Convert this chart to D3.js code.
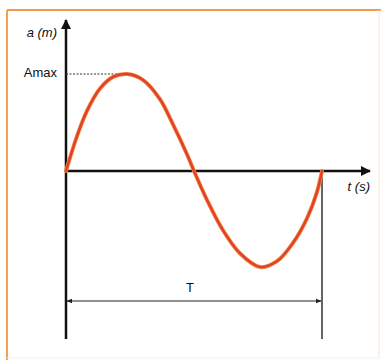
<!DOCTYPE html>
<html>
<head>
<meta charset="utf-8">
<script src="https://cdn.jsdelivr.net/npm/d3@7"></script>
<style>
  html, body { margin: 0; padding: 0; background: #fff; }
  svg { display: block; }
  text { font-family: "Liberation Sans", Arial, sans-serif; fill: #111; }
</style>
</head>
<body>
<svg id="chart" width="381" height="360"></svg>
<script>
// One period of the displacement curve: time as a fraction of T, amplitude as a fraction of Amax
const timeFrac = [0, 0.043, 0.082, 0.133, 0.184, 0.238, 0.30, 0.367, 0.418, 0.473, 0.5,
                  0.551, 0.613, 0.68, 0.758, 0.824, 0.887, 0.941, 0.98, 1.0];
const ampFrac  = [0, 0.36, 0.62, 0.85, 0.97, 1.0, 0.94, 0.74, 0.48, 0.17, 0,
                  -0.30, -0.61, -0.85, -0.99, -0.93, -0.74, -0.49, -0.22, 0];
const yAxisLabel = "a (m)";
const xAxisLabel = "t (s)";
const peakLabel = "Amax";
const periodLabel = "T";

const svg = d3.select("#chart");

// Frame
svg.append("line").attr("x1", 7).attr("x2", 381).attr("y1", 10).attr("y2", 10)
  .attr("stroke", "#f39a4a").attr("stroke-width", 2);
svg.append("line").attr("x1", 7).attr("x2", 7).attr("y1", 10).attr("y2", 360)
  .attr("stroke", "#f5a04e").attr("stroke-width", 2);
svg.append("line").attr("x1", 379).attr("x2", 379).attr("y1", 10).attr("y2", 358)
  .attr("stroke", "#fbe6d4").attr("stroke-width", 1);
svg.append("line").attr("x1", 7).attr("x2", 379).attr("y1", 358).attr("y2", 358)
  .attr("stroke", "#fdf0e4").attr("stroke-width", 1);

const x = d3.scaleLinear().domain([0, 1]).range([66, 322]);
const y = d3.scaleLinear().domain([-1, 1]).range([268, 74]);

const defs = svg.append("defs");
defs.append("marker").attr("id", "axisHead")
  .attr("viewBox", "0 0 10 10").attr("refX", 9).attr("refY", 5)
  .attr("markerWidth", 4).attr("markerHeight", 4).attr("markerUnits", "strokeWidth")
  .attr("orient", "auto")
  .append("path").attr("d", "M0,0 L10,5 L0,10 Z").attr("fill", "#111");
defs.append("marker").attr("id", "dimHead")
  .attr("viewBox", "0 0 10 10").attr("refX", 9).attr("refY", 5)
  .attr("markerWidth", 5).attr("markerHeight", 5).attr("markerUnits", "strokeWidth")
  .attr("orient", "auto-start-reverse")
  .append("path").attr("d", "M0,1 L10,5 L0,9 Z").attr("fill", "#222");

// Axes
svg.append("line")
  .attr("x1", x(0)).attr("x2", x(0)).attr("y1", 339).attr("y2", 20)
  .attr("stroke", "#111").attr("stroke-width", 2.5).attr("marker-end", "url(#axisHead)");
svg.append("line")
  .attr("x1", x(0)).attr("x2", 370).attr("y1", y(0)).attr("y2", y(0))
  .attr("stroke", "#111").attr("stroke-width", 2.5).attr("marker-end", "url(#axisHead)");

// Peak guide
svg.append("line")
  .attr("x1", x(0)).attr("x2", x(0.238)).attr("y1", y(1)).attr("y2", y(1))
  .attr("stroke", "#333").attr("stroke-width", 1).attr("stroke-dasharray", "2,1.5");

// Period marker
svg.append("line")
  .attr("x1", x(1)).attr("x2", x(1)).attr("y1", y(0)).attr("y2", 339)
  .attr("stroke", "#333").attr("stroke-width", 1.5);
svg.append("line")
  .attr("x1", x(0) + 1).attr("x2", x(1) - 1).attr("y1", 301).attr("y2", 301)
  .attr("stroke", "#222").attr("stroke-width", 1.2)
  .attr("marker-start", "url(#dimHead)").attr("marker-end", "url(#dimHead)");

// Curve
const pts = timeFrac.map((t, i) => [t, ampFrac[i]]);
const line = d3.line().x(d => x(d[0])).y(d => y(d[1])).curve(d3.curveCatmullRom.alpha(0.5));
svg.append("path").attr("d", line(pts)).attr("fill", "none")
  .attr("stroke", "#f28a3a").attr("stroke-width", 4).attr("stroke-linecap", "round");
svg.append("path").attr("d", line(pts)).attr("fill", "none")
  .attr("stroke", "#e2402c").attr("stroke-width", 2.4).attr("stroke-linecap", "round");

// Labels
svg.append("text").attr("x", 57).attr("y", 37).attr("text-anchor", "end")
  .attr("font-size", 13).attr("font-style", "italic").text(yAxisLabel);
svg.append("text").attr("x", 57).attr("y", 77).attr("text-anchor", "end")
  .attr("font-size", 13).text(peakLabel);
svg.append("text").attr("x", 370).attr("y", 191).attr("text-anchor", "end")
  .attr("font-size", 13).attr("font-style", "italic").text(xAxisLabel);
svg.append("text").attr("x", 190).attr("y", 292).attr("text-anchor", "middle")
  .attr("font-size", 13).text(periodLabel);
</script>
</body>
</html>
